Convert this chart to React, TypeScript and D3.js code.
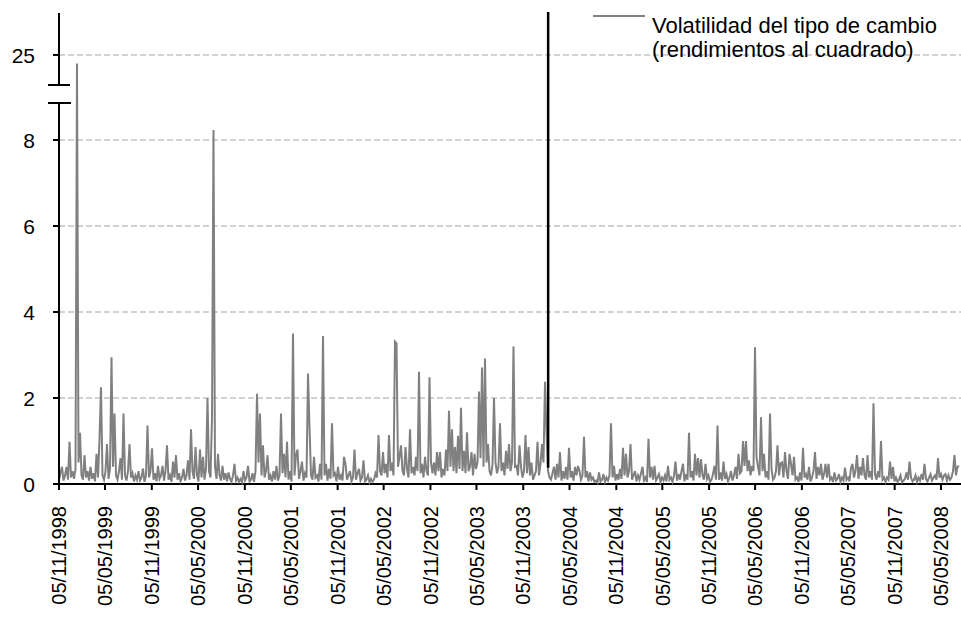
import React, { useEffect, useRef } from "react";
import * as d3 from "d3";

// dates are dd/mm/yyyy like the original axis
const startDate = "05/11/1998";
const endDate = "15/07/2008";
const markerDate = "11/02/2004";

const tickLabels = [
  "05/11/1998", "05/05/1999", "05/11/1999", "05/05/2000", "05/11/2000",
  "05/05/2001", "05/11/2001", "05/05/2002", "05/11/2002", "05/05/2003",
  "05/11/2003", "05/05/2004", "05/11/2004", "05/05/2005", "05/11/2005",
  "05/05/2006", "05/11/2006", "05/05/2007", "05/11/2007", "05/05/2008",
];

const yTicksLow = [0, 2, 4, 6, 8];
const yTicksHigh = [25];

const legendLines = ["Volatilidad del tipo de cambio", "(rendimientos al cuadrado)"];

// squared returns, evenly spaced between startDate and endDate
const vol = [
  0.1, 0.25, 0.4, 0.08, 0.2, 0.4, 0.1, 0.98, 0.15, 0.3,
  0.12, 0.35, 24.8, 0.5, 1.19, 0.2, 0.1, 0.67, 0.15, 0.3,
  0.08, 0.4, 0.12, 0.25, 0.06, 0.7, 0.15, 1.04, 2.25, 0.2,
  0.1, 0.3, 0.93, 0.12, 0.35, 2.95, 0.4, 1.64, 0.2, 0.1,
  0.3, 0.6, 0.1, 1.64, 0.2, 0.08, 0.3, 0.93, 0.15, 0.25,
  0.06, 0.2, 0.1, 0.3, 0.08, 0.15, 0.36, 0.05, 0.2, 1.36,
  0.15, 0.3, 0.83, 0.1, 0.25, 0.06, 0.42, 0.12, 0.2, 0.42,
  0.08, 0.3, 0.9, 0.1, 0.2, 0.05, 0.52, 0.15, 0.67, 0.1,
  0.25, 0.06, 0.15, 0.35, 0.08, 0.2, 0.55, 0.1, 1.27, 0.3,
  0.12, 0.86, 0.2, 0.06, 0.8, 0.15, 0.63, 0.1, 0.35, 2.0,
  0.3, 0.15, 1.55, 8.23, 0.4, 0.12, 0.7, 0.2, 0.08, 0.42,
  0.1, 0.25, 0.06, 0.27, 0.12, 0.05, 0.2, 0.47, 0.08, 0.15,
  0.05, 0.12, 0.04, 0.3, 0.08, 0.15, 0.42, 0.06, 0.1, 0.25,
  0.05, 0.3, 2.1, 0.5, 1.64, 0.2, 0.9, 0.15, 0.3, 0.67,
  0.1, 0.2, 0.06, 0.3, 0.1, 0.42, 0.08, 0.2, 1.64, 0.25,
  0.7, 0.15, 0.98, 0.1, 0.3, 0.06, 3.5, 0.2, 0.67, 0.8,
  0.12, 0.3, 0.52, 0.08, 0.25, 0.15, 2.57, 1.32, 0.2, 0.1,
  0.63, 0.15, 0.2, 0.06, 0.47, 0.1, 3.44, 0.2, 0.47, 0.08,
  0.35, 0.12, 1.41, 0.2, 0.25, 0.06, 0.4, 0.1, 0.2, 0.08,
  0.63, 0.47, 0.1, 0.2, 0.3, 0.06, 0.15, 0.8, 0.1, 0.25,
  0.35, 0.08, 0.15, 0.55, 0.06, 0.1, 0.2, 0.04, 0.12, 0.05,
  0.1, 0.25, 0.15, 1.14, 0.3, 0.2, 0.74, 0.25, 0.47, 0.15,
  1.14, 0.3, 0.5, 0.2, 3.31, 3.27, 0.4, 0.63, 0.9, 0.3,
  0.2, 0.86, 0.35, 0.15, 1.27, 0.25, 0.4, 0.2, 0.63, 0.3,
  2.61, 0.25, 0.47, 0.15, 0.63, 0.3, 0.2, 2.48, 0.5, 0.25,
  0.5, 0.2, 0.74, 0.3, 0.74, 0.15, 0.35, 0.2, 0.8, 0.3,
  1.7, 0.4, 1.27, 0.3, 0.86, 0.25, 1.12, 0.35, 1.77, 0.3,
  0.77, 0.25, 1.2, 0.3, 0.4, 0.74, 0.2, 0.7, 0.35, 0.5,
  2.15, 0.6, 2.71, 0.4, 2.92, 0.5, 0.93, 0.3, 0.2, 0.45,
  2.0, 0.5, 0.25, 0.4, 1.41, 0.3, 0.5, 0.2, 0.77, 0.35,
  0.93, 0.3, 0.5, 3.2, 0.4, 0.42, 0.2, 0.9, 0.4, 0.15,
  0.3, 1.14, 0.25, 0.86, 0.2, 0.5, 0.1, 0.2, 0.3, 0.98,
  0.2, 0.47, 0.93, 0.5, 2.38, 1.19, 0.3, 0.15, 0.1, 0.25,
  0.4, 0.1, 0.47, 0.15, 0.74, 0.08, 0.3, 0.12, 0.4, 0.1,
  0.84, 0.15, 0.3, 0.08, 0.4, 0.2, 0.42, 0.3, 0.1, 0.2,
  1.1, 0.15, 0.3, 0.06, 0.27, 0.1, 0.15, 0.05, 0.08, 0.03,
  0.27, 0.06, 0.1, 0.23, 0.05, 0.15, 0.08, 0.2, 1.41, 0.15,
  0.42, 0.08, 0.23, 0.1, 0.35, 0.12, 0.84, 0.2, 0.7, 0.15,
  0.3, 0.93, 0.1, 0.2, 0.3, 0.06, 0.2, 0.1, 0.25, 0.4,
  0.08, 0.15, 0.05, 1.05, 0.15, 0.4, 0.1, 0.42, 0.08, 0.15,
  0.23, 0.05, 0.15, 0.08, 0.2, 0.06, 0.42, 0.1, 0.15, 0.05,
  0.2, 0.52, 0.08, 0.23, 0.1, 0.3, 0.47, 0.06, 0.23, 0.1,
  1.19, 0.15, 0.3, 0.08, 0.7, 0.2, 0.6, 0.15, 0.58, 0.2,
  0.1, 0.47, 0.12, 0.2, 0.05, 0.1, 0.23, 0.42, 0.1, 1.36,
  0.1, 0.27, 0.08, 0.52, 0.12, 0.23, 0.06, 0.15, 0.3, 0.08,
  0.2, 0.4, 0.12, 0.7, 0.25, 0.3, 1.0, 0.42, 1.0, 0.3,
  0.55, 0.2, 0.42, 0.3, 3.18, 0.63, 0.4, 0.2, 1.55, 0.3,
  0.7, 0.15, 0.3, 0.1, 1.64, 0.35, 0.1, 0.15, 0.3, 0.9,
  0.2, 0.48, 0.5, 0.15, 0.74, 0.3, 0.12, 0.7, 0.47, 0.2,
  0.63, 0.1, 0.15, 0.05, 0.27, 0.08, 0.84, 0.15, 0.23, 0.1,
  0.4, 0.06, 0.15, 0.3, 0.74, 0.12, 0.4, 0.2, 0.47, 0.1,
  0.23, 0.47, 0.15, 0.47, 0.1, 0.15, 0.05, 0.27, 0.08, 0.12,
  0.23, 0.05, 0.15, 0.08, 0.38, 0.1, 0.15, 0.06, 0.38, 0.47,
  0.15, 0.3, 0.67, 0.12, 0.4, 0.2, 0.6, 0.2, 0.1, 0.67,
  0.15, 0.3, 0.1, 1.88, 0.23, 0.1, 0.3, 0.15, 1.0, 0.1,
  0.15, 0.05, 0.15, 0.1, 0.52, 0.12, 0.4, 0.06, 0.15, 0.05,
  0.1, 0.2, 0.04, 0.08, 0.12, 0.27, 0.1, 0.52, 0.15, 0.06,
  0.1, 0.2, 0.05, 0.15, 0.08, 0.23, 0.1, 0.47, 0.12, 0.06,
  0.15, 0.23, 0.08, 0.15, 0.2, 0.1, 0.6, 0.15, 0.23, 0.1,
  0.2, 0.23, 0.08, 0.2, 0.1, 0.15, 0.3, 0.67, 0.2, 0.4,
  0.42,
];

const FONT = "'Liberation Sans', Arial, sans-serif";

const Chart = () => {
  const ref = useRef<SVGSVGElement | null>(null);

  useEffect(() => {
    const svg = d3.select(ref.current);
    svg.selectAll("*").remove();

    const parse = d3.utcParse("%d/%m/%Y");
    const t0 = parse(startDate)!.getTime();
    const t1 = parse(endDate)!.getTime();
    const step = (t1 - t0) / (vol.length - 1);
    const data = vol.map((v, i) => ({ date: new Date(t0 + i * step), value: v }));

    const left = 59;
    const right = 959;
    const bottom = 484;

    const x = d3.scaleUtc().domain([new Date(t0), new Date(t1)]).range([left, right]);
    // broken axis: 0..8.86 below the break, 24.3..26 above it
    const y = d3.scaleLinear().domain([0, 8.86, 24.3, 26]).range([bottom, 103, 85, 12]);

    // grid
    svg
      .append("g")
      .selectAll("line")
      .data([...yTicksLow.filter((d) => d > 0), ...yTicksHigh])
      .enter()
      .append("line")
      .attr("x1", left)
      .attr("x2", 961)
      .attr("y1", (d) => y(d))
      .attr("y2", (d) => y(d))
      .attr("stroke", "#c4c4c4")
      .attr("stroke-width", 1.5)
      .attr("stroke-dasharray", "6,3");

    // x axis line under the series
    svg
      .append("line")
      .attr("x1", left)
      .attr("x2", 961)
      .attr("y1", bottom)
      .attr("y2", bottom)
      .attr("stroke", "#000")
      .attr("stroke-width", 2);

    const line = d3
      .line<{ date: Date; value: number }>()
      .x((d) => x(d.date))
      .y((d) => y(d.value));

    svg
      .append("path")
      .datum(data)
      .attr("d", line)
      .attr("fill", "none")
      .attr("stroke", "#808080")
      .attr("stroke-width", 2)
      .attr("stroke-linejoin", "miter");

    // vertical marker
    const mx = x(parse(markerDate)!);
    svg
      .append("line")
      .attr("x1", mx)
      .attr("x2", mx)
      .attr("y1", 12)
      .attr("y2", y(0.38))
      .attr("stroke", "#000")
      .attr("stroke-width", 2.5);

    // y axis in two pieces with break marks
    const axisG = svg.append("g").attr("stroke", "#000").attr("stroke-width", 2);
    axisG.append("line").attr("x1", left).attr("x2", left).attr("y1", 13).attr("y2", 85);
    axisG.append("line").attr("x1", left).attr("x2", left).attr("y1", 103).attr("y2", bottom + 1);
    axisG.append("line").attr("x1", 48).attr("x2", 70).attr("y1", 85).attr("y2", 85);
    axisG.append("line").attr("x1", 48).attr("x2", 71).attr("y1", 103).attr("y2", 103);

    const yTickVals = [...yTicksLow, ...yTicksHigh];
    axisG
      .selectAll(".yt")
      .data(yTickVals)
      .enter()
      .append("line")
      .attr("x1", left - 6)
      .attr("x2", left)
      .attr("y1", (d) => y(d))
      .attr("y2", (d) => y(d));

    svg
      .append("g")
      .selectAll("text")
      .data(yTickVals)
      .enter()
      .append("text")
      .attr("x", 35)
      .attr("y", (d) => y(d))
      .attr("dy", "0.36em")
      .attr("text-anchor", "end")
      .style("font-family", FONT)
      .style("font-size", "21px")
      .attr("fill", "#000")
      .text((d) => d);

    // x ticks and rotated labels
    const tickDates = tickLabels.map((s) => parse(s)!);
    svg
      .append("g")
      .selectAll("line")
      .data(tickDates)
      .enter()
      .append("line")
      .attr("x1", (d) => x(d))
      .attr("x2", (d) => x(d))
      .attr("y1", bottom)
      .attr("y2", bottom + 6)
      .attr("stroke", "#000")
      .attr("stroke-width", 2);

    svg
      .append("g")
      .selectAll("text")
      .data(tickLabels)
      .enter()
      .append("text")
      .attr("transform", (d) => `translate(${x(parse(d)!)},${bottom + 22}) rotate(-90)`)
      .attr("dy", "0.36em")
      .attr("text-anchor", "end")
      .style("font-family", FONT)
      .style("font-size", "20px")
      .attr("fill", "#000")
      .text((d) => d);

    // legend
    svg
      .append("line")
      .attr("x1", 593)
      .attr("x2", 645)
      .attr("y1", 16)
      .attr("y2", 16)
      .attr("stroke", "#808080")
      .attr("stroke-width", 2);

    svg
      .append("g")
      .selectAll("text")
      .data(legendLines)
      .enter()
      .append("text")
      .attr("x", 652)
      .attr("y", (d, i) => 33 + i * 24)
      .style("font-family", FONT)
      .style("font-size", "22px")
      .attr("fill", "#000")
      .text((d) => d);
  }, []);

  return (
    <svg
      ref={ref}
      width={961}
      height={618}
      style={{ position: "absolute", left: 0, top: 0, background: "#fff" }}
    />
  );
};

export default function App() {
  return <Chart />;
}
